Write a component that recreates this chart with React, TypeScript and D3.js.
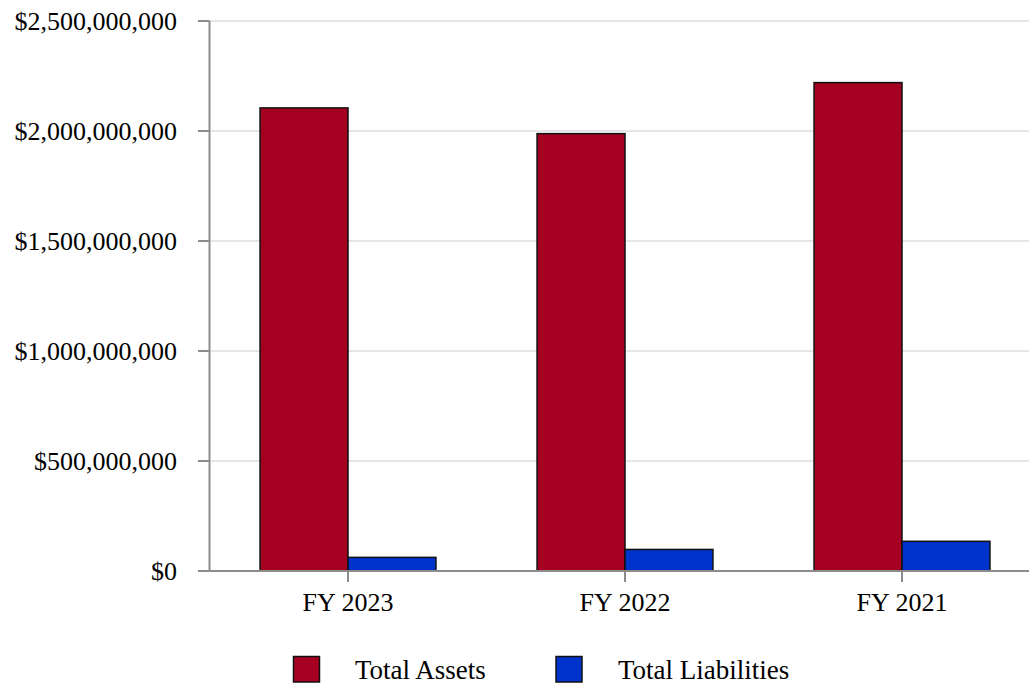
import React from "react";
import * as d3 from "d3";

const categories = ["FY 2023", "FY 2022", "FY 2021"];
const seriesNames = ["Total Assets", "Total Liabilities"];
const seriesColors = ["#A50021", "#0033CC"];
const totalAssets = [2105000000, 1988000000, 2220000000];
const totalLiabilities = [62000000, 98000000, 135000000];
const yTicks = [0, 500000000, 1000000000, 1500000000, 2000000000, 2500000000];

const W = 1029;
const H = 683;
const FONT = "'Liberation Serif', 'Times New Roman', serif";

export default function App() {
  const left = 209.5;
  const top = 21;
  const bottom = 571;
  const y = d3.scaleLinear().domain([0, 2500000000]).range([bottom, top]);
  const x0 = d3
    .scaleBand<string>()
    .domain(categories)
    .range([left, 1040.5])
    .paddingInner(0.365)
    .paddingOuter(0.1825);
  const x1 = d3
    .scaleBand<string>()
    .domain(seriesNames)
    .range([0, x0.bandwidth()]);
  const values = [totalAssets, totalLiabilities];
  const fmt = (v: number) => "$" + d3.format(",")(v);

  const legendItems = [
    { sq: 293.5, tx: 355 },
    { sq: 556, tx: 618 },
  ];

  return (
    <svg
      width={W}
      height={H}
      style={{ position: "absolute", left: 0, top: 0, background: "#fff" }}
      fontFamily={FONT}
    >
      {yTicks.map((t) => (
        <g key={t}>
          {t > 0 && (
            <line x1={left} x2={W} y1={y(t)} y2={y(t)} stroke="#e6e6e6" strokeWidth={2} />
          )}
          <line x1={198} x2={left} y1={y(t)} y2={y(t)} stroke="#8c8c8c" strokeWidth={2} />
          <text
            x={177}
            y={y(t)}
            textAnchor="end"
            dominantBaseline="central"
            fontSize={26}
            fill="#000"
          >
            {fmt(t)}
          </text>
        </g>
      ))}
      {categories.map((c, i) => (
        <g key={c}>
          {seriesNames.map((s, j) => {
            const v = values[j][i];
            return (
              <rect
                key={s}
                x={(x0(c) as number) + (x1(s) as number)}
                y={y(v)}
                width={x1.bandwidth()}
                height={bottom - y(v)}
                fill={seriesColors[j]}
                stroke="#111"
                strokeWidth={1.5}
              />
            );
          })}
        </g>
      ))}
      <line x1={left} x2={left} y1={top} y2={bottom} stroke="#8c8c8c" strokeWidth={2} />
      <line x1={left} x2={W} y1={bottom} y2={bottom} stroke="#8c8c8c" strokeWidth={2} />
      {categories.map((c) => {
        const cx = (x0(c) as number) + x0.bandwidth() / 2;
        return (
          <g key={c}>
            <line x1={cx} x2={cx} y1={bottom} y2={582} stroke="#8c8c8c" strokeWidth={2} />
            <text x={cx} y={610.5} textAnchor="middle" fontSize={26} fill="#000">
              {c}
            </text>
          </g>
        );
      })}
      {seriesNames.map((s, j) => (
        <g key={s}>
          <rect
            x={legendItems[j].sq}
            y={656.5}
            width={26}
            height={25.5}
            fill={seriesColors[j]}
            stroke="#111"
            strokeWidth={1.5}
          />
          <text x={legendItems[j].tx} y={679} fontSize={27} fill="#000">
            {s}
          </text>
        </g>
      ))}
    </svg>
  );
}
